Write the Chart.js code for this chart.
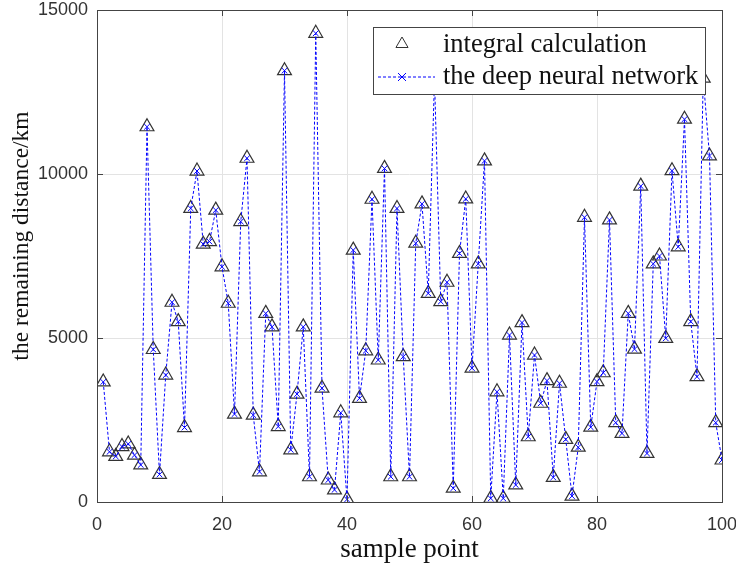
<!DOCTYPE html>
<html>
<head>
<meta charset="utf-8">
<script src="https://cdn.jsdelivr.net/npm/chart.js@4.4.1/dist/chart.umd.min.js"></script>
<style>
  html, body { margin: 0; padding: 0; background: #fff; }
  #wrap { width: 736px; height: 572px; }
</style>
</head>
<body>
<div id="wrap"><canvas id="graph" width="736" height="572"></canvas></div>
<script>
// sample points 1..100
const samplePoints = [
    1, 2, 3, 4, 5, 6, 7, 8, 9, 10, 11, 12, 13, 14, 15, 16, 17, 18, 19, 20,
    21, 22, 23, 24, 25, 26, 27, 28, 29, 30, 31, 32, 33, 34, 35, 36, 37, 38, 39, 40,
    41, 42, 43, 44, 45, 46, 47, 48, 49, 50, 51, 52, 53, 54, 55, 56, 57, 58, 59, 60,
    61, 62, 63, 64, 65, 66, 67, 68, 69, 70, 71, 72, 73, 74, 75, 76, 77, 78, 79, 80,
    81, 82, 83, 84, 85, 86, 87, 88, 89, 90, 91, 92, 93, 94, 95, 96, 97, 98, 99, 100
];

// remaining distance (km) from integral calculation
const integralValues = [
    3660, 1530, 1390, 1690, 1770, 1430, 1130, 11440, 4650, 840,
    3870, 6090, 5500, 2270, 8950, 10090, 7860, 7940, 8900, 7170,
    6060, 2680, 8550, 10480, 2650, 920, 5750, 5340, 2300, 13150,
    1590, 3290, 5340, 770, 14290, 3470, 670, 370, 2720, 80,
    7680, 3160, 4610, 9230, 4330, 10170, 770, 8950, 4430, 770,
    7890, 9090, 6360, 12900, 6110, 6700, 420, 7580, 9240, 4080,
    7260, 10400, 110, 3360, 110, 5090, 520, 5470, 1990, 4480,
    3010, 3700, 750, 3620, 1910, 180, 1670, 8680, 2280, 3670,
    3940, 8600, 2420, 2090, 5750, 4660, 9630, 1480, 7260, 7500,
    4990, 10100, 7780, 11670, 5500, 3820, 12920, 10550, 2420, 1280
];

// remaining distance (km) predicted by the deep neural network
const networkValues = [
    3660, 1530, 1390, 1690, 1770, 1430, 1130, 11440, 4650, 840,
    3870, 6090, 5500, 2270, 8950, 10090, 7860, 7940, 8900, 7170,
    6060, 2680, 8550, 10480, 2650, 920, 5750, 5340, 2300, 13150,
    1590, 3290, 5340, 770, 14290, 3470, 670, 370, 2720, 80,
    7680, 3160, 4610, 9230, 4330, 10170, 770, 8950, 4430, 770,
    7890, 9090, 6360, 12900, 6110, 6700, 420, 7580, 9240, 4080,
    7260, 10400, 110, 3360, 110, 5090, 520, 5470, 1990, 4480,
    3010, 3700, 750, 3620, 1910, 180, 1670, 8680, 2280, 3670,
    3940, 8600, 2420, 2090, 5750, 4660, 9630, 1480, 7260, 7500,
    4990, 10100, 7780, 11670, 5500, 3820, 12920, 10550, 2420, 1280
];

const xTicks = [0, 20, 40, 60, 80, 100];
const yTicks = [0, 5000, 10000, 15000];
const seriesLabels = ['integral calculation', 'the deep neural network'];
const xTitle = 'sample point';
const yTitle = 'the remaining distance/km';

const toPoints = (vals) => vals.map((v, i) => ({ x: samplePoints[i], y: v }));

const serif = '"Liberation Serif", "Times New Roman", serif';
const sans = '"Liberation Sans", Arial, sans-serif';
const axisColor = '#444';

// draws the MATLAB style box with inward ticks, plus the y title
const boxPlugin = {
    id: 'box',
    afterDatasetsDraw(chart) {
        const { ctx, chartArea: a, scales } = chart;
        ctx.save();
        ctx.strokeStyle = axisColor;
        ctx.lineWidth = 1;
        ctx.strokeRect(a.left + 0.5, a.top + 0.5, a.right - a.left, a.bottom - a.top);
        ctx.beginPath();
        xTicks.forEach(t => {
            const px = Math.round(scales.x.getPixelForValue(t)) + 0.5;
            ctx.moveTo(px, a.bottom); ctx.lineTo(px, a.bottom - 6);
            ctx.moveTo(px, a.top); ctx.lineTo(px, a.top + 6);
        });
        yTicks.forEach(t => {
            const py = Math.round(scales.y.getPixelForValue(t)) + 0.5;
            ctx.moveTo(a.left, py); ctx.lineTo(a.left + 6, py);
            ctx.moveTo(a.right, py); ctx.lineTo(a.right - 6, py);
        });
        ctx.stroke();

        // y axis title, sits a bit above the middle of the axis
        ctx.translate(22, (a.top + a.bottom) / 2 - 20);
        ctx.rotate(-Math.PI / 2);
        ctx.fillStyle = '#111';
        ctx.font = '23.5px ' + serif;
        ctx.textAlign = 'center';
        ctx.textBaseline = 'middle';
        ctx.fillText(yTitle, 0, 0);
        ctx.restore();
    }
};

// legend drawn inside the plot area, top right
const legendPlugin = {
    id: 'insideLegend',
    afterDraw(chart) {
        const { ctx, chartArea: a } = chart;
        const right = a.right - 17, top = a.top + 17;
        const w = 332, h = 67;
        const left = right - w;
        ctx.save();
        ctx.fillStyle = '#fff';
        ctx.fillRect(left, top, w, h);
        ctx.strokeStyle = axisColor;
        ctx.lineWidth = 1;
        ctx.strokeRect(left + 0.5, top + 0.5, w, h);

        // row 1: triangle
        const y1 = top + 17, y2 = top + 50;
        const tx = left + 29, r = 7;
        ctx.beginPath();
        ctx.moveTo(tx, y1 - r);
        ctx.lineTo(tx + 0.866 * r, y1 + 0.5 * r);
        ctx.lineTo(tx - 0.866 * r, y1 + 0.5 * r);
        ctx.closePath();
        ctx.strokeStyle = '#333';
        ctx.stroke();

        // row 2: dashed line with cross
        ctx.strokeStyle = '#0000ff';
        ctx.setLineDash([3, 2]);
        ctx.beginPath();
        ctx.moveTo(left + 5, y2); ctx.lineTo(left + 62, y2);
        ctx.stroke();
        ctx.setLineDash([]);
        ctx.beginPath();
        ctx.moveTo(tx - 4, y2 - 4); ctx.lineTo(tx + 4, y2 + 4);
        ctx.moveTo(tx + 4, y2 - 4); ctx.lineTo(tx - 4, y2 + 4);
        ctx.stroke();

        ctx.fillStyle = '#111';
        ctx.font = '26.5px ' + serif;
        ctx.textBaseline = 'middle';
        ctx.fillText(seriesLabels[0], left + 70, y1 + 1);
        ctx.fillText(seriesLabels[1], left + 70, y2);
        ctx.restore();
    }
};

const ctx = document.getElementById('graph').getContext('2d');
const chart = new Chart(ctx, {
    type: 'line',
    data: {
        datasets: [{
            label: seriesLabels[1],
            data: toPoints(networkValues),
            borderColor: '#0000ff',
            borderWidth: 1,
            borderDash: [3, 2],
            pointStyle: 'crossRot',
            pointRadius: 4,
            pointBorderColor: '#0000ff',
            pointBorderWidth: 1,
            tension: 0,
            order: 0
        }, {
            label: seriesLabels[0],
            data: toPoints(integralValues),
            showLine: false,
            pointStyle: 'triangle',
            pointRadius: 8,
            pointBorderColor: '#333',
            pointBackgroundColor: 'rgba(0,0,0,0)',
            pointBorderWidth: 1.2,
            order: 1
        }]
    },
    options: {
        responsive: false,
        animation: false,
        events: [],
        layout: { padding: { top: 10, right: 14, left: 0, bottom: 0 } },
        plugins: {
            legend: { display: false },
            tooltip: { enabled: false }
        },
        scales: {
            x: {
                type: 'linear',
                min: 0,
                max: 100,
                afterFit: (s) => { s.height = 70; s.paddingLeft = 0; s.paddingRight = 0; },
                afterBuildTicks: (s) => { s.ticks = xTicks.map(v => ({ value: v })); },
                grid: { color: '#e3e3e3', drawTicks: false },
                border: { display: false },
                ticks: { padding: 12, color: '#333', font: { family: sans, size: 18 },
                         callback: (v) => String(v) },
                title: {
                    display: true,
                    text: xTitle,
                    color: '#111',
                    font: { family: serif, size: 27 },
                    padding: { top: 0, bottom: 6 }
                }
            },
            y: {
                min: 0,
                max: 15000,
                afterFit: (s) => { s.width = 97; s.paddingTop = 0; s.paddingBottom = 0; },
                afterBuildTicks: (s) => { s.ticks = yTicks.map(v => ({ value: v })); },
                grid: { color: '#e3e3e3', drawTicks: false },
                border: { display: false },
                ticks: { padding: 9, color: '#333', font: { family: sans, size: 18 },
                         callback: (v) => String(v) }
            }
        }
    },
    plugins: [boxPlugin, legendPlugin]
});
</script>
</body>
</html>
